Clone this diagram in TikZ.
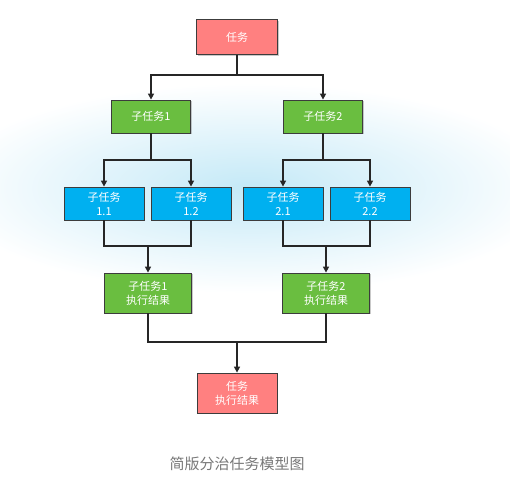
\documentclass[tikz,border=0pt]{standalone}
\usepackage{fontspec}
\newfontfamily\cjk{Noto Sans CJK SC}
\usetikzlibrary{arrows.meta,shadows}
\definecolor{taskred}{RGB}{255,128,128}
\definecolor{subgreen}{RGB}{106,190,64}
\definecolor{leafblue}{RGB}{0,176,240}
\definecolor{edgegray}{RGB}{60,60,60}
\definecolor{haze}{RGB}{196,233,247}
\definecolor{captiongray}{RGB}{120,120,120}
\tikzset{
  box/.style={draw=edgegray, line width=0.8pt, text=white, align=center,
    font=\cjk\fontsize{11}{14}\selectfont, inner sep=0pt,
    drop shadow={shadow xshift=1.2pt, shadow yshift=-1.2pt, opacity=0.35, fill=black!60}},
  taskbox/.style={box, fill=taskred, minimum width=81pt, minimum height=35pt},
  subbox/.style={box, fill=subgreen, minimum width=79pt, minimum height=33pt},
  leafbox/.style={box, fill=leafblue, minimum width=80pt, minimum height=33pt},
  resbox/.style={box, fill=subgreen, minimum width=87pt, minimum height=40pt},
  finalbox/.style={box, fill=taskred, minimum width=80pt, minimum height=40pt},
  link/.style={draw=black!85, line width=1.4pt},
  arrow/.style={link, -{Triangle[width=6pt,length=6pt]}},
}
\begin{document}
\begin{tikzpicture}[x=1pt,y=-1pt]
\useasboundingbox (0,0) rectangle (510,489);
\fill[white] (0,0) rectangle (510,489);
% soft background glow
\shade[inner color=haze, outer color=white] (250,188) ellipse (310 and 105);

% boxes
\node[taskbox] (task) at (237,37) {任务};
\node[subbox] (s1) at (151,116.5) {子任务1};
\node[subbox] (s2) at (323,116.5) {子任务2};
\node[leafbox] (s11) at (104,203.5) {子任务\\1.1};
\node[leafbox] (s12) at (191,203.5) {子任务\\1.2};
\node[leafbox] (s21) at (283,203.5) {子任务\\2.1};
\node[leafbox] (s22) at (370,203.5) {子任务\\2.2};
\node[resbox] (r1) at (148,293) {子任务1\\执行结果};
\node[resbox] (r2) at (326,293) {子任务2\\执行结果};
\node[finalbox] (fin) at (237,393) {任务\\执行结果};

% split and merge junctions
\coordinate (j0) at (237,75);
\coordinate (j1) at (151,160);
\coordinate (j2) at (323,160);
\coordinate (m1) at (148,246);
\coordinate (m2) at (326,246);
\coordinate (m0) at (237,342);

% task -> subtasks
\draw[link] (task.south) -- (j0);
\draw[arrow] (j0) -| (s1.north);
\draw[arrow] (j0) -| (s2.north);
% subtasks -> leaves
\draw[link] (s1.south) -- (j1);
\draw[arrow] (j1) -| (s11.north);
\draw[arrow] (j1) -| (s12.north);
\draw[link] (s2.south) -- (j2);
\draw[arrow] (j2) -| (s21.north);
\draw[arrow] (j2) -| (s22.north);
% leaves -> results
\draw[link] (s11.south) |- (m1) -| (s12.south);
\draw[arrow] (m1) -- (r1.north);
\draw[link] (s21.south) |- (m2) -| (s22.south);
\draw[arrow] (m2) -- (r2.north);
% results -> final
\draw[link] (r1.south) |- (m0) -| (r2.south);
\draw[arrow] (m0) -- (fin.north);

\node[font=\cjk\fontsize{15}{18}\selectfont, text=captiongray] (cap) at (237,464) {简版分治任务模型图};
\end{tikzpicture}
\end{document}
